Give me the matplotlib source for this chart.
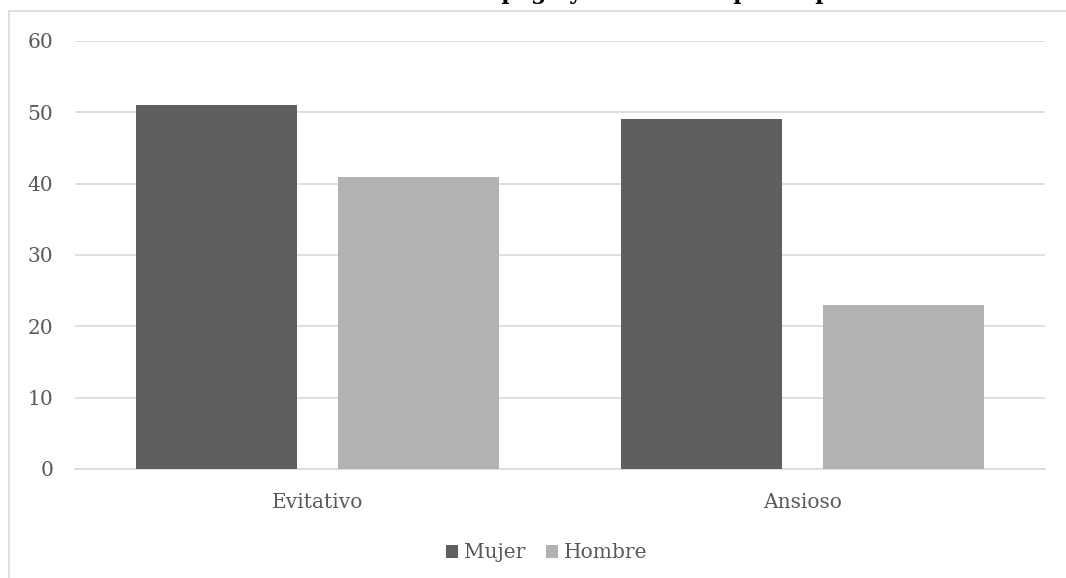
import numpy as np
import matplotlib
matplotlib.use("Agg")
import matplotlib.pyplot as plt
from matplotlib.patches import Rectangle

categories = ["Evitativo", "Ansioso"]
mujer = [51, 49]
hombre = [41, 23]
series_names = ["Mujer", "Hombre"]
title = "Estilos de apego y sexo de los participantes"

W, H = 1066, 578
plt.rcParams['font.family'] = ['DejaVu Serif']

fig = plt.figure(figsize=(W / 100, H / 100), dpi=100)

# chart frame (cut off at right and bottom like the screenshot)
fig.patches.append(Rectangle((8.5 / W, -0.1), 1.2, 1 - 11 / H + 0.1,
                             transform=fig.transFigure, fill=False,
                             edgecolor="#d9d9d9", linewidth=1.2))

ax = fig.add_axes([75 / W, 1 - 469 / H, 970 / W, 428 / H])

x = np.arange(len(categories))
w = 0.332
off = 0.208
ax.bar(x - off, mujer, w, color="#5f5f5f", label=series_names[0], zorder=3)
ax.bar(x + off, hombre, w, color="#b2b2b2", label=series_names[1], zorder=3)

ax.set_xlim(-0.5, 1.5)
ax.set_ylim(0, 60)
ax.set_yticks(range(0, 61, 10))
ax.set_xticks(x)
ax.set_xticklabels(categories)
ax.yaxis.grid(True, color="#d9d9d9", linewidth=1.2, zorder=0)
for s in ["top", "right", "left"]:
    ax.spines[s].set_visible(False)
ax.spines["bottom"].set_color("#d9d9d9")
ax.spines["bottom"].set_linewidth(1.2)
ax.tick_params(axis="both", length=0, colors="#595959", labelsize=14.5)
ax.tick_params(axis="y", pad=15.8)
ax.tick_params(axis="x", pad=17)

fig.legend(loc="center", bbox_to_anchor=(547 / W, 1 - 553 / H), ncol=2,
           frameon=False, fontsize=14.5, handlelength=0.6, handleheight=0.6,
           handletextpad=0.3, columnspacing=1.0, labelcolor="#595959")

# title sits above the top edge, only its descenders show
fig.text(358 / W, 1 + 0.5 / H, title, ha="left", va="baseline",
         fontsize=16, fontweight="bold", color="black")

fig.savefig("out.png", dpi=100)
